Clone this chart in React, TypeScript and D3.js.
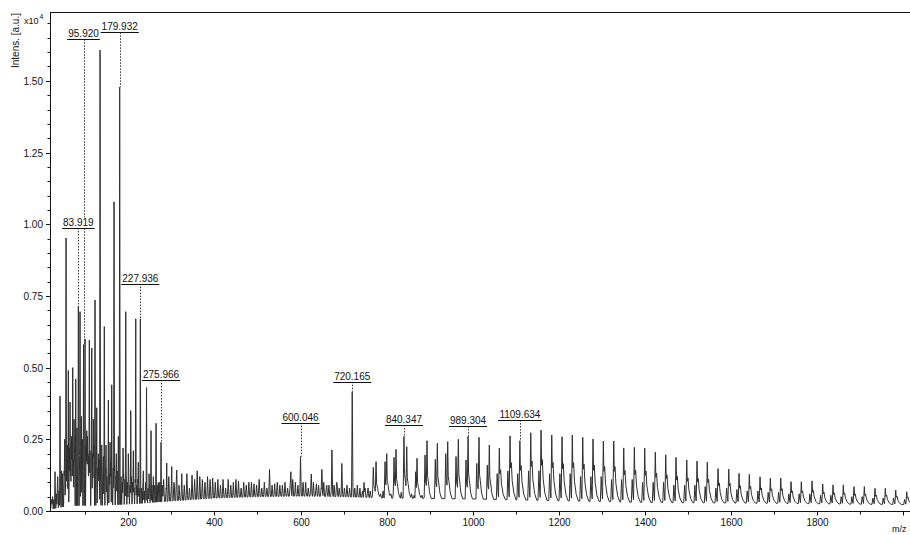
import React from "react";
import * as d3 from "d3";

const WIDTH = 910;
const HEIGHT = 535;
const PLOT_LEFT = 50;
const PLOT_TOP = 12;
const PLOT_RIGHT = 910;
const PLOT_BOTTOM = 511;

const mzDomain = [18, 2016];
const intDomain = [0, 1.74];

// axis ticks
const xMajorTicks = [200, 400, 600, 800, 1000, 1200, 1400, 1600, 1800, 2000];
const xTickLabels = ["200", "400", "600", "800", "1000", "1200", "1400", "1600", "1800", ""];
const xMinorTicks = [100, 300, 500, 700, 900, 1100, 1300, 1500, 1700, 1900];
const yMajorTicks = [0, 0.25, 0.5, 0.75, 1.0, 1.25, 1.5];
const yTickLabels = ["0.00", "0.25", "0.50", "0.75", "1.00", "1.25", "1.50"];
const yMinorTicks = [0.05, 0.1, 0.15, 0.2, 0.3, 0.35, 0.4, 0.45, 0.55, 0.6, 0.65, 0.7, 0.8, 0.85, 0.9, 0.95,
  1.05, 1.1, 1.15, 1.2, 1.3, 1.35, 1.4, 1.45, 1.55, 1.6, 1.65, 1.7];

// baseline level (x10^4)
const baseMz = [18, 40, 60, 150, 220, 300, 400, 500, 600, 700, 800, 1000, 1200, 1400, 1700, 2016];
const baseInt = [0.005, 0.012, 0.018, 0.02, 0.025, 0.035, 0.045, 0.05, 0.052, 0.05, 0.045, 0.042, 0.036, 0.03, 0.027, 0.022];

// prominent low-mass peaks
const lowMz = [22.1, 29.7, 35.1, 41.3, 47.6, 52.2, 55.3, 58.3, 60.6, 64.6, 67.6, 70.8, 73.9, 77.8, 80.8, 83.919,
  87.8, 90.8, 95.92, 99.4, 103.4, 106.4, 109.4, 115.0, 118.7, 122.6, 126.6, 130.3, 134.3, 138.2, 141.9, 144.2,
  148.2, 153.6, 157.5, 161.4, 166.8, 172.1, 176.8, 179.932, 187.7, 194.0, 200.0, 205.6, 211.6, 217.2, 223.2,
  227.936, 234.9, 242.3, 248.1, 252.7, 258.1, 264.4, 269.7, 275.966, 282.3, 289.2, 294.6, 300.8, 306.9, 312.5,
  317.8, 324.1];
const lowInt = [0.04, 0.137, 0.09, 0.40, 0.13, 0.25, 0.952, 0.23, 0.49, 0.38, 0.26, 0.50, 0.32, 0.46, 0.29, 0.715,
  0.695, 0.33, 0.58, 0.60, 0.28, 0.2, 0.596, 0.568, 0.32, 0.736, 0.36, 0.2, 1.607, 0.23, 0.19, 0.643,
  0.23, 0.387, 0.24, 0.44, 1.078, 0.2, 0.26, 1.478, 0.22, 0.695, 0.2, 0.35, 0.21, 0.67, 0.17,
  0.67, 0.14, 0.43, 0.13, 0.28, 0.12, 0.306, 0.10, 0.24, 0.10, 0.167, 0.09, 0.155, 0.09, 0.143,
  0.09, 0.13];

// dense low-mass background (every 3 m/z from 21)
const lowNoiseStart = 21;
const lowNoiseStep = 3;
const lowNoiseInt = [
  0.03, 0.05, 0.04, 0.08, 0.06, 0.12, 0.07, 0.10, 0.14, 0.09,
  0.14, 0.10, 0.18, 0.13, 0.22, 0.16, 0.24, 0.18, 0.22, 0.26,
  0.20, 0.28, 0.22, 0.18, 0.25, 0.21, 0.17, 0.23, 0.26, 0.19,
  0.21, 0.16, 0.20, 0.23, 0.17, 0.21, 0.15, 0.18, 0.16, 0.19,
  0.14, 0.17, 0.15, 0.12, 0.16, 0.13, 0.17, 0.12, 0.15, 0.16,
  0.12, 0.14, 0.11, 0.15, 0.12, 0.10, 0.13, 0.11, 0.14, 0.10,
  0.12, 0.09, 0.12, 0.10, 0.08, 0.11, 0.09, 0.11, 0.08, 0.10,
  0.08, 0.10, 0.07, 0.10, 0.09, 0.08, 0.10, 0.07, 0.09, 0.08,
  0.09, 0.07, 0.09, 0.08, 0.10, 0.07, 0.09, 0.08];

// mid-mass background (every 6 m/z from 282)
const midNoiseStart = 282;
const midNoiseStep = 6;
const midNoiseInt = [
  0.11, 0.08, 0.12, 0.09, 0.10, 0.13, 0.08, 0.11, 0.09, 0.12, 0.08, 0.10, 0.11, 0.08, 0.12, 0.09, 0.10, 0.08, 0.11, 0.09,
  0.10, 0.08, 0.09, 0.11, 0.08, 0.10, 0.09, 0.08, 0.11, 0.09, 0.08, 0.10, 0.09, 0.08, 0.10, 0.08, 0.09, 0.11, 0.08, 0.09,
  0.08, 0.10, 0.09, 0.08, 0.10, 0.08, 0.09, 0.10, 0.08, 0.09, 0.11, 0.08, 0.09, 0.08, 0.10, 0.09, 0.08, 0.09, 0.10, 0.08,
  0.09, 0.08, 0.10, 0.08, 0.09, 0.08, 0.09, 0.10, 0.08, 0.09, 0.08, 0.09, 0.08, 0.07, 0.08, 0.07, 0.08, 0.07, 0.08, 0.07,
  0.07, 0.06, 0.07, 0.065, 0.06, 0.07, 0.06, 0.065, 0.06, 0.065, 0.06, 0.06, 0.065, 0.055, 0.06, 0.055, 0.06, 0.055, 0.06, 0.055,
  0.055, 0.05, 0.055, 0.05];

// mid-mass peaks
const midMz = [336, 348, 360, 372, 384, 396, 408, 420, 432, 444, 456, 468, 480, 492, 504, 516, 528, 540, 552, 564,
  577.6, 588, 600.046, 612, 625, 637, 649.7, 661, 673, 685, 696, 708, 720.165, 732, 747.6, 757];
const midInt = [0.13, 0.125, 0.14, 0.11, 0.12, 0.115, 0.11, 0.105, 0.11, 0.10, 0.105, 0.095, 0.10, 0.095, 0.09, 0.10,
  0.145, 0.095, 0.09, 0.095, 0.137, 0.10, 0.19, 0.10, 0.129, 0.095, 0.145, 0.09, 0.213, 0.095, 0.166, 0.09,
  0.416, 0.09, 0.10, 0.08];

// doublet peaks 760-1040
const pairMz = [769.2, 775.5, 796.4, 800.3, 817.3, 821.9, 840.347, 846.8, 867.7, 870.7, 889.3, 893.9, 913.2, 917.9,
  937.4, 942.0, 961.3, 966.7, 984.5, 989.304, 1009.5, 1014.7, 1034.0, 1038.7];
const pairInt = [0.152, 0.172, 0.172, 0.20, 0.187, 0.215, 0.26, 0.224, 0.137, 0.184, 0.195, 0.245, 0.18, 0.236,
  0.2, 0.242, 0.19, 0.25, 0.178, 0.26, 0.166, 0.257, 0.16, 0.23];

// cluster series 1060-2010
const clusterMz = [1061.9, 1086.8, 1109.634, 1134.9, 1158.8, 1183.7, 1207.6, 1231.5, 1255.7, 1279.6, 1303.6, 1327.7,
  1350.9, 1375.6, 1399.7, 1424.3, 1448.5, 1472.4, 1497.3, 1521.2, 1545.1, 1570.0, 1594.9, 1618.8, 1642.7, 1667.6,
  1691.5, 1715.7, 1739.6, 1763.5, 1788.4, 1813.2, 1837.2, 1861.1, 1885.9, 1909.9, 1934.7, 1958.7, 1982.8, 2008.4];
const clusterInt = [0.219, 0.262, 0.245, 0.273, 0.282, 0.265, 0.259, 0.265, 0.257, 0.251, 0.244, 0.244, 0.22, 0.222,
  0.219, 0.205, 0.196, 0.187, 0.178, 0.174, 0.17, 0.148, 0.146, 0.131, 0.128, 0.119, 0.114, 0.115, 0.102, 0.102,
  0.105, 0.094, 0.091, 0.091, 0.085, 0.085, 0.079, 0.079, 0.073, 0.067];
const clusterLeftInt = [0.13, 0.14, 0.13, 0.14, 0.14, 0.13, 0.13, 0.13, 0.12, 0.12, 0.12, 0.11, 0.11, 0.11, 0.10,
  0.10, 0.10, 0.09, 0.09, 0.09, 0.085, 0.08, 0.08, 0.075, 0.07, 0.07, 0.065, 0.065, 0.06, 0.06, 0.06, 0.055,
  0.055, 0.05, 0.05, 0.05, 0.045, 0.045, 0.045, 0.04];

// annotated peaks
const labelMz = [83.919, 95.92, 179.932, 227.936, 275.966, 600.046, 720.165, 840.347, 989.304, 1109.634];
const labelPeakInt = [0.715, 0.58, 1.478, 0.67, 0.24, 0.19, 0.416, 0.26, 0.26, 0.245];
const labelLevel = [0.987, 1.645, 1.669, 0.793, 0.457, 0.308, 0.451, 0.3, 0.296, 0.317];

// peak profile shapes: [offset m/z, fraction of height above baseline]
const SHAPE_SPIKE = [[-1, 0], [0, 1], [1, 0]];
const SHAPE_NOISE_LOW = [[-1.5, 0], [0, 1], [1.5, 0]];
const SHAPE_NOISE_MID = [[-2, 0], [0, 1], [2, 0]];
const SHAPE_MID = [[-1.6, 0], [0, 1], [1.6, 0.1], [2.6, 0]];
const SHAPE_PAIR = [[-2, 0], [0, 1], [1.2, 0.4], [3, 0.3], [6, 0.1], [10, 0]];
const SHAPE_CLUSTER = [[-2, 0], [0, 1], [1.2, 0.5], [3, 0.58], [5, 0.3], [9, 0.1], [14, 0]];
const SHAPE_COMPANION = [[-2, 0], [0, 1], [2, 0.3], [3.5, 0]];

type Pk = { m: number; h: number; s: number[][] };

function profileAt(shape: number[][], off: number): number {
  if (off < shape[0][0] || off > shape[shape.length - 1][0]) return -1;
  for (let i = 1; i < shape.length; i++) {
    const [x0, f0] = shape[i - 1];
    const [x1, f1] = shape[i];
    if (off <= x1) return x1 === x0 ? Math.max(f0, f1) : f0 + ((f1 - f0) * (off - x0)) / (x1 - x0);
  }
  return -1;
}

function buildTrace(): [number, number][] {
  const peaks: Pk[] = [];
  lowMz.forEach((m, i) => peaks.push({ m, h: lowInt[i], s: SHAPE_SPIKE }));
  lowNoiseInt.forEach((h, i) => peaks.push({ m: lowNoiseStart + i * lowNoiseStep, h, s: SHAPE_NOISE_LOW }));
  midNoiseInt.forEach((h, i) => peaks.push({ m: midNoiseStart + i * midNoiseStep, h, s: SHAPE_NOISE_MID }));
  midMz.forEach((m, i) => peaks.push({ m, h: midInt[i], s: SHAPE_MID }));
  pairMz.forEach((m, i) => peaks.push({ m, h: pairInt[i], s: SHAPE_PAIR }));
  clusterMz.forEach((m, i) => {
    peaks.push({ m, h: clusterInt[i], s: SHAPE_CLUSTER });
    peaks.push({ m: m - 5, h: clusterLeftInt[i], s: SHAPE_COMPANION });
  });
  peaks.sort((a, b) => a.m - b.m);

  const base = d3.scaleLinear().domain(baseMz).range(baseInt).clamp(true);
  const samples = new Set<number>();
  peaks.forEach((p) => p.s.forEach((v) => samples.add(Math.round((p.m + v[0]) * 1000) / 1000)));
  baseMz.forEach((m) => samples.add(m));
  const ms = Array.from(samples)
    .filter((m) => m >= mzDomain[0] && m <= mzDomain[1])
    .sort((a, b) => a - b);

  return ms.map((m) => {
    const b = base(m);
    let v = b;
    for (const p of peaks) {
      if (p.m < m - 20) continue;
      if (p.m > m + 20) break;
      const f = profileAt(p.s, m - p.m);
      if (f >= 0) {
        const val = b + f * Math.max(0, p.h - b);
        if (val > v) v = val;
      }
    }
    return [m, v] as [number, number];
  });
}

const FONT = "'Liberation Sans', Arial, Helvetica, sans-serif";

function textWidth(s: string, size: number): number {
  let w = 0;
  for (const c of s) w += c === "." ? 0.278 : 0.556;
  return w * size;
}

export default function App() {
  const x = d3.scaleLinear().domain(mzDomain).range([PLOT_LEFT, PLOT_RIGHT]);
  const y = d3.scaleLinear().domain(intDomain).range([PLOT_BOTTOM, PLOT_TOP]);
  const trace = buildTrace();
  const line = d3
    .line<[number, number]>()
    .x((d) => x(d[0]))
    .y((d) => y(d[1]));

  return (
    <svg
      width={WIDTH}
      height={HEIGHT}
      style={{ position: "absolute", left: 0, top: 0, background: "#fff" }}
      fontFamily={FONT}
    >
      <defs>
        <clipPath id="plotclip">
          <rect x={PLOT_LEFT} y={PLOT_TOP} width={PLOT_RIGHT - PLOT_LEFT} height={PLOT_BOTTOM - PLOT_TOP} />
        </clipPath>
      </defs>
      <rect x={0} y={0} width={WIDTH} height={HEIGHT} fill="#fff" />
      <path d={line(trace) || ""} fill="none" stroke="#2e2e2e" strokeWidth={1} clipPath="url(#plotclip)" />

      {/* annotation leader lines */}
      {labelMz.map((m, i) => {
        const cx = Math.round(x(m)) + 0.5;
        return (
          <line
            key={"d" + i}
            x1={cx}
            x2={cx}
            y1={y(labelLevel[i])}
            y2={y(labelPeakInt[i])}
            stroke="#333"
            strokeWidth={1}
            strokeDasharray="1.5 1.5"
          />
        );
      })}
      {/* annotation labels */}
      {labelMz.map((m, i) => {
        const cx = x(m);
        const txt = m.toFixed(3);
        const w = textWidth(txt, 10);
        const ly = Math.round(y(labelLevel[i])) + 0.5;
        return (
          <g key={"l" + i}>
            <rect x={cx - w / 2 - 1} y={ly - 11} width={w + 2} height={10.5} fill="#fff" />
            <text x={cx} y={ly - 2.5} fontSize={10} textAnchor="middle" fill="#111">
              {txt}
            </text>
            <line x1={cx - w / 2 - 1} x2={cx + w / 2 + 1} y1={ly} y2={ly} stroke="#111" strokeWidth={1} />
          </g>
        );
      })}

      {/* frame */}
      <line x1={PLOT_LEFT + 0.5} x2={PLOT_LEFT + 0.5} y1={PLOT_TOP} y2={PLOT_BOTTOM + 1} stroke="#111" />
      <line x1={PLOT_LEFT} x2={PLOT_RIGHT} y1={PLOT_BOTTOM + 0.5} y2={PLOT_BOTTOM + 0.5} stroke="#111" />
      <line x1={PLOT_LEFT} x2={PLOT_RIGHT} y1={PLOT_TOP + 0.5} y2={PLOT_TOP + 0.5} stroke="#111" />

      {/* y ticks */}
      {yMajorTicks.map((t, i) => {
        const yy = Math.round(y(t)) + 0.5;
        return (
          <g key={"ym" + i}>
            <line x1={46} x2={PLOT_LEFT} y1={yy} y2={yy} stroke="#111" />
            <text x={43} y={yy} dy="0.35em" fontSize={10} textAnchor="end" fill="#111">
              {yTickLabels[i]}
            </text>
          </g>
        );
      })}
      {yMinorTicks.map((t, i) => {
        const yy = Math.round(y(t)) + 0.5;
        return <line key={"yn" + i} x1={47.5} x2={PLOT_LEFT} y1={yy} y2={yy} stroke="#111" />;
      })}

      {/* x ticks */}
      {xMajorTicks.map((t, i) => {
        const xx = Math.round(x(t)) + 0.5;
        return (
          <g key={"xm" + i}>
            <line x1={xx} x2={xx} y1={PLOT_BOTTOM} y2={PLOT_BOTTOM + 4.5} stroke="#111" />
            <text x={xx} y={526} fontSize={10} textAnchor="middle" fill="#111">
              {xTickLabels[i]}
            </text>
          </g>
        );
      })}
      {xMinorTicks.map((t, i) => {
        const xx = Math.round(x(t)) + 0.5;
        return <line key={"xn" + i} x1={xx} x2={xx} y1={PLOT_BOTTOM} y2={PLOT_BOTTOM + 3.5} stroke="#111" />;
      })}

      {/* axis titles */}
      <text transform="translate(18.5,13) rotate(-90)" fontSize={10} textAnchor="end" fill="#111">
        Intens. [a.u.]
      </text>
      <text x={24} y={23.5} fontSize={9} fill="#111">
        x10
      </text>
      <text x={39.5} y={19} fontSize={7} fill="#111">
        4
      </text>
      <text x={892} y={532} fontSize={9} fill="#111">
        m/z
      </text>
    </svg>
  );
}
